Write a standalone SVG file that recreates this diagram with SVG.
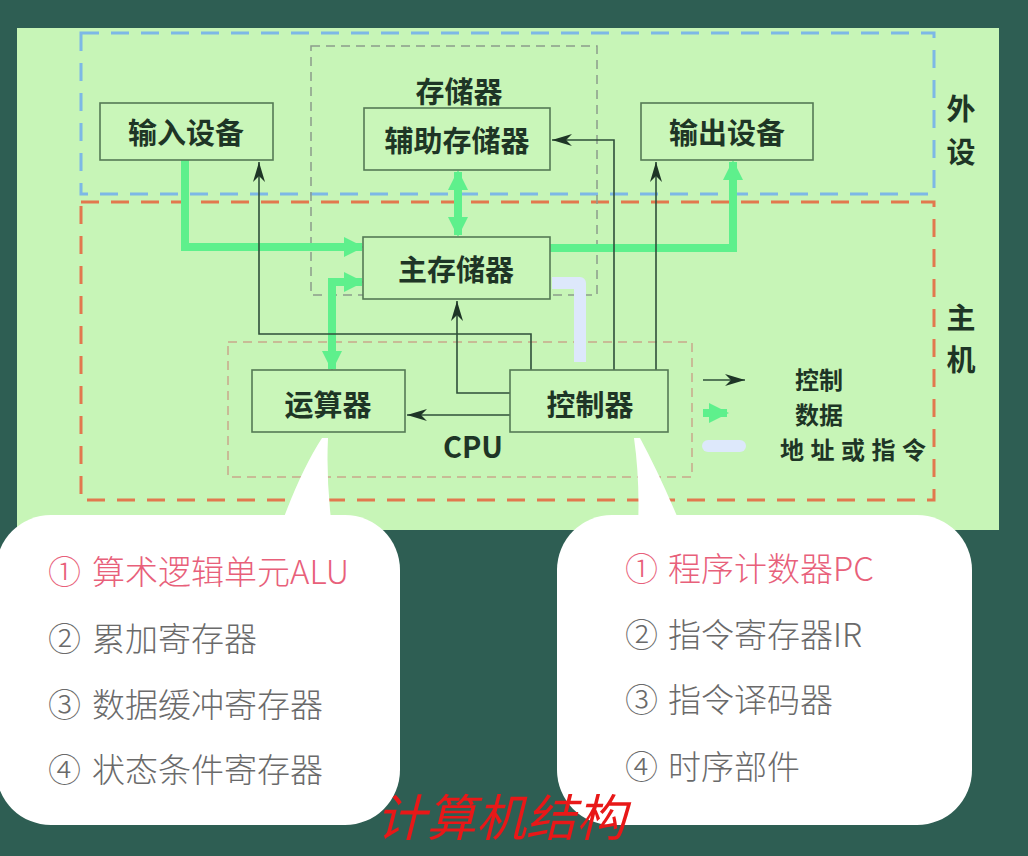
<svg xmlns="http://www.w3.org/2000/svg" width="1028" height="856" viewBox="0 0 1028 856">
<defs>
<style>
.box{fill:#c9f6b9;stroke:#557a55;stroke-width:1.6}
.lbl{font-family:"Noto Sans CJK SC","Liberation Sans",sans-serif;font-weight:bold;font-size:29px;fill:#1e3526;text-anchor:middle;dominant-baseline:central}
.leg{font-family:"Noto Sans CJK SC","Liberation Sans",sans-serif;font-weight:bold;font-size:24px;fill:#1e3526;dominant-baseline:central}
.ctl{fill:none;stroke:#2f4f3a;stroke-width:1.6;marker-end:url(#ah)}
.dat{fill:none;stroke:#5ef08c;stroke-width:8}
.item{font-family:"Noto Sans CJK SC","Liberation Sans",sans-serif;font-weight:300;font-size:33px;fill:#6a6a6a;dominant-baseline:central}
.red{fill:#e8607a}
</style>
<marker id="ah" viewBox="0 0 20 12" refX="20" refY="6" markerWidth="20" markerHeight="12" markerUnits="userSpaceOnUse" orient="auto">
<path d="M0,0 L20,6 L0,12 L6,6 Z" fill="#1e3526"/>
</marker>
<marker id="gh" viewBox="0 0 20 20" refX="18" refY="10" markerWidth="20" markerHeight="20" markerUnits="userSpaceOnUse" orient="auto-start-reverse">
<path d="M0,0 L20,10 L0,20 Z" fill="#5ef08c"/>
</marker>
</defs>
<rect x="0" y="0" width="1028" height="856" fill="#2e5e53"/>
<rect x="17" y="28" width="982" height="502" fill="#c7f5b7"/>
<rect x="81" y="33" width="853" height="161" fill="none" stroke="#7db8e6" stroke-width="3" stroke-dasharray="18 12"/>
<rect x="81" y="202" width="853" height="298" fill="none" stroke="#e2784e" stroke-width="3" stroke-dasharray="18 12"/>
<rect x="311" y="46" width="286" height="249" fill="none" stroke="#8c9c8c" stroke-width="1.5" stroke-dasharray="9 6"/>
<rect x="228" y="342" width="464" height="135" fill="none" stroke="#c9a88c" stroke-width="1.5" stroke-dasharray="9 6"/>
<text class="lbl" x="459" y="90">存储器</text>
<text class="lbl" x="473" y="445">CPU</text>
<text class="lbl" x="961" y="107">外</text>
<text class="lbl" x="961" y="150">设</text>
<text class="lbl" x="961" y="316">主</text>
<text class="lbl" x="961" y="358">机</text>

<g id="connectors">
<path class="dat" d="M185,160 V247 H362" marker-end="url(#gh)"/>
<path class="dat" d="M550,248 H733 V162" marker-end="url(#gh)"/>
<path class="dat" d="M458,172 V235" marker-start="url(#gh)" marker-end="url(#gh)"/>
<path class="dat" d="M362,282 H332 V369" marker-start="url(#gh)" marker-end="url(#gh)"/>
<path d="M552,283 H580 V362" fill="none" stroke="#dde8fb" stroke-width="12" stroke-linejoin="round"/>
<path class="ctl" d="M510,415 H407"/>
<path class="ctl" d="M510,393 H457 V301"/>
<path class="ctl" d="M531,370 V334 H259 V162"/>
<path class="ctl" d="M614,370 V140 H552"/>
<path class="ctl" d="M656,370 V162"/>
<path class="ctl" d="M703,380 H745"/>
<path class="dat" d="M703,413 H727" marker-end="url(#gh)"/>
<path d="M708,446 H740" stroke="#dde8fb" stroke-width="12" stroke-linecap="round"/>
</g>

<g id="input"><rect class="box" x="100" y="103" width="173" height="57"/><text class="lbl" x="186" y="131">输入设备</text></g>
<g id="aux"><rect class="box" x="364" y="108" width="186" height="62"/><text class="lbl" x="457" y="139">辅助存储器</text></g>
<g id="output"><rect class="box" x="641" y="103" width="172" height="57"/><text class="lbl" x="727" y="131">输出设备</text></g>
<g id="main"><rect class="box" x="363" y="237" width="187" height="62"/><text class="lbl" x="456" y="268">主存储器</text></g>
<g id="alu"><rect class="box" x="252" y="370" width="153" height="62"/><text class="lbl" x="328" y="403">运算器</text></g>
<g id="cu"><rect class="box" x="510" y="370" width="158" height="62"/><text class="lbl" x="590" y="403">控制器</text></g>

<g id="legend">
<text class="leg" x="795" y="378">控制</text>
<text class="leg" x="795" y="413">数据</text>
<text class="leg" x="780" y="448" textLength="146" lengthAdjust="spacing">地址或指令</text>
</g>

<g id="bubble-left">
<rect x="-4" y="515" width="404" height="310" rx="55" fill="#ffffff"/>
<path d="M280,528 Q300,472 322,438 L328,438 Q326,480 332,528 Z" fill="#ffffff"/>
<text class="item red" x="48" y="570">①</text><text class="item red" x="92" y="570">算术逻辑单元ALU</text>
<text class="item" x="48" y="637">②</text><text class="item" x="92" y="637">累加寄存器</text>
<text class="item" x="48" y="703">③</text><text class="item" x="92" y="703">数据缓冲寄存器</text>
<text class="item" x="48" y="768">④</text><text class="item" x="92" y="768">状态条件寄存器</text>
</g>
<g id="bubble-right">
<rect x="557" y="515" width="415" height="310" rx="55" fill="#ffffff"/>
<path d="M634,438 L640,438 Q660,475 682,528 L638,528 Q640,480 634,438 Z" fill="#ffffff"/>
<text class="item red" x="625" y="567">①</text><text class="item red" x="668" y="567">程序计数器PC</text>
<text class="item" x="625" y="633">②</text><text class="item" x="668" y="633">指令寄存器IR</text>
<text class="item" x="625" y="698">③</text><text class="item" x="668" y="698">指令译码器</text>
<text class="item" x="625" y="765">④</text><text class="item" x="668" y="765">时序部件</text>
</g>
<text x="376" y="836" font-family="'Noto Sans CJK SC',sans-serif" font-size="50" font-style="italic" fill="#e81818">计算机结构</text>
</svg>
